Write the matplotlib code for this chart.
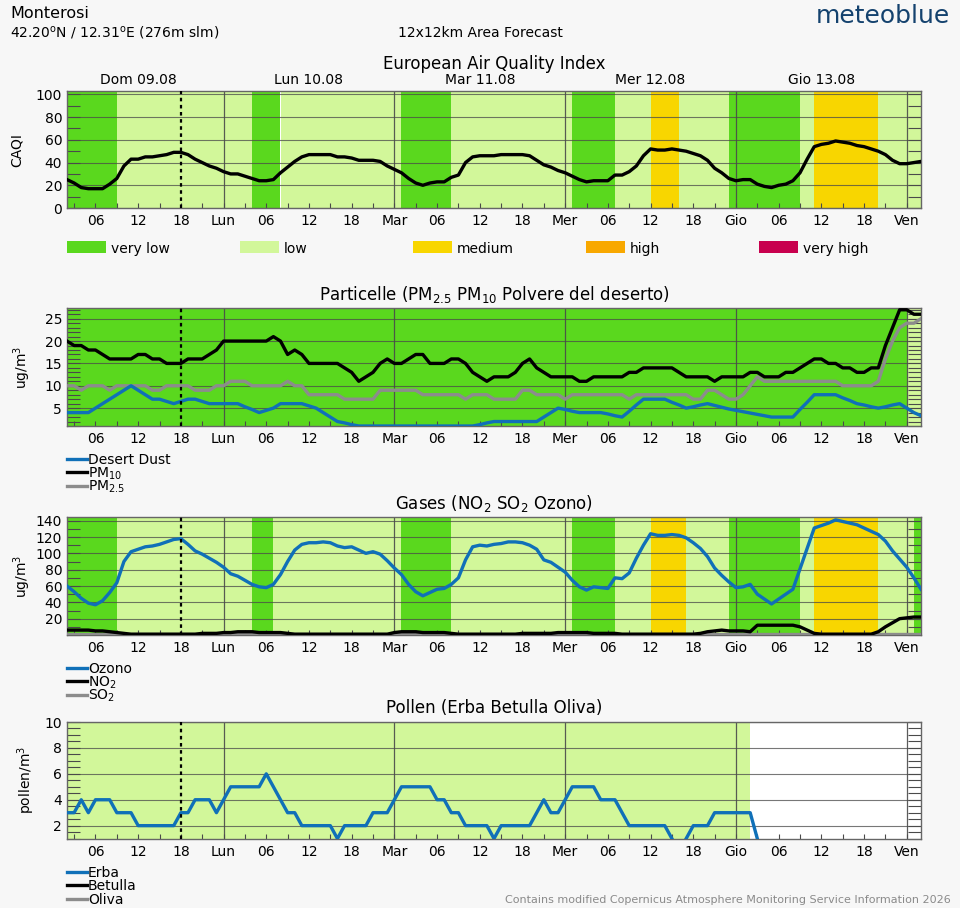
import matplotlib
matplotlib.use('Agg')
import matplotlib.pyplot as plt
from matplotlib.ticker import MultipleLocator, FixedLocator
from matplotlib.patches import Rectangle
from matplotlib.lines import Line2D

# ---------------- data ----------------
hours = list(range(2, 123))  # hours since Dom 09.08 00:00

caqi = [25, 22, 18, 17, 17, 17, 21, 26, 37, 43,
        43, 45, 45, 46, 47, 49, 49, 47, 43, 40,
        37, 35, 32, 30, 30, 28, 26, 24, 24, 25,
        31, 36, 41, 45, 47, 47, 47, 47, 45, 45,
        44, 42, 42, 42, 41, 37, 34, 31, 26, 22,
        20, 22, 23, 23, 27, 29, 40, 45, 46, 46,
        46, 47, 47, 47, 47, 46, 42, 38, 36, 33,
        31, 28, 25, 23, 24, 24, 24, 29, 29, 32,
        37, 46, 52, 51, 51, 52, 51, 50, 48, 46,
        42, 35, 31, 26, 24, 25, 25, 21, 19, 18,
        20, 21, 24, 31, 43, 54, 56, 57, 59, 58,
        57, 55, 54, 52, 50, 47, 42, 39, 39, 40,
        41]

pm10 = [20, 19, 19, 18, 18, 17, 16, 16, 16, 16,
        17, 17, 16, 16, 15, 15, 15, 16, 16, 16,
        17, 18, 20, 20, 20, 20, 20, 20, 20, 21,
        20, 17, 18, 17, 15, 15, 15, 15, 15, 14,
        13, 11, 12, 13, 15, 16, 15, 15, 16, 17,
        17, 15, 15, 15, 16, 16, 15, 13, 12, 11,
        12, 12, 12, 13, 15, 16, 14, 13, 12, 12,
        12, 12, 11, 11, 12, 12, 12, 12, 12, 13,
        13, 14, 14, 14, 14, 14, 13, 12, 12, 12,
        12, 11, 12, 12, 12, 12, 13, 13, 12, 12,
        12, 13, 13, 14, 15, 16, 16, 15, 15, 14,
        14, 13, 13, 14, 14, 19, 23, 27, 27, 26,
        26]

pm25 = [10, 10, 9, 10, 10, 10, 9, 10, 10, 10,
        10, 10, 9, 9, 10, 10, 10, 10, 9, 9,
        9, 10, 10, 11, 11, 11, 10, 10, 10, 10,
        10, 11, 10, 10, 8, 8, 8, 8, 8, 7,
        7, 7, 7, 7, 9, 9, 9, 9, 9, 9,
        8, 8, 8, 8, 8, 8, 7, 8, 8, 8,
        7, 7, 7, 7, 9, 9, 8, 8, 8, 8,
        7, 8, 8, 8, 8, 8, 8, 8, 8, 7,
        8, 8, 8, 8, 8, 8, 8, 8, 7, 7,
        9, 9, 8, 7, 7, 8, 10, 12, 11, 11,
        11, 11, 11, 11, 11, 11, 11, 11, 11, 10,
        10, 10, 10, 10, 11, 16, 20, 23, 24, 24,
        25]

dust = [4, 4, 4, 4, 5, 6, 7, 8, 9, 10,
        9, 8, 7, 7, 6.5, 6, 6.5, 7, 7, 6.5,
        6, 6, 6, 6, 6, 5.3, 4.7, 4, 4.5, 5,
        6, 6, 6, 6, 5.5, 5, 4, 3, 2, 1.7,
        1.3, 1, 1, 1, 1, 1, 1, 1, 1, 1,
        1, 1, 1, 1, 1, 1, 1, 1, 1.3, 1.7,
        2, 2, 2, 2, 2, 2, 2, 3, 4, 5,
        4.7, 4.3, 4, 4, 4, 4, 3.7, 3.3, 3, 4.3,
        5.7, 7, 7, 7, 7, 6.3, 5.7, 5, 5.3, 5.7,
        6, 5.6, 5.2, 4.8, 4.5, 4.2, 3.9, 3.6, 3.3, 3,
        3, 3, 3, 4.7, 6.3, 8, 8, 8, 8, 7.3,
        6.7, 6, 5.7, 5.3, 5, 5.3, 5.7, 6, 5, 4,
        3.3]

ozone = [60, 53, 45, 39, 37, 42, 52, 64, 90, 102,
         105, 108, 109, 111, 114, 117, 118, 111, 103, 99,
         94, 89, 83, 75, 72, 67, 62, 59, 58, 62,
         74, 90, 104, 111, 113, 113, 114, 113, 109, 107,
         108, 104, 100, 102, 99, 91, 82, 74, 62, 53,
         48, 52, 56, 57, 62, 70, 92, 108, 110, 109,
         111, 112, 114, 114, 113, 110, 105, 92, 89, 83,
         77, 67, 59, 55, 59, 58, 57, 70, 69, 76,
         94, 110, 124, 122, 122, 123, 122, 119, 113, 106,
         96, 82, 73, 65, 58, 59, 62, 50, 44, 38,
         44, 50, 56, 81, 106, 131, 134, 137, 141, 139,
         137, 135, 131, 127, 123, 115, 103, 93, 83, 70,
         56]

no2 = [6, 6, 6, 6, 5, 5, 4, 3, 2, 1,
       1, 1, 1, 1, 1, 1, 1, 1, 1, 2,
       2, 2, 3, 3, 4, 4, 4, 3, 3, 3,
       3, 2, 1, 1, 1, 1, 1, 1, 1, 1,
       1, 1, 1, 1, 1, 1, 3, 4, 4, 4,
       3, 3, 3, 3, 2, 1, 1, 1, 1, 1,
       1, 1, 1, 1, 2, 2, 2, 2, 2, 3,
       3, 3, 3, 3, 2, 2, 2, 2, 1, 1,
       1, 1, 1, 1, 1, 1, 1, 1, 1, 2,
       4, 5, 6, 5, 5, 5, 4, 12, 12, 12,
       12, 12, 12, 10, 6, 2, 1, 1, 1, 1,
       1, 1, 1, 1, 4, 10, 15, 20, 21, 22,
       22]

so2 = [1] * 121

pollen_hours = list(range(2, 100))
erba = [3, 3, 4, 3, 4, 4, 4, 3, 3, 3,
        2, 2, 2, 2, 2, 2, 3, 3, 4, 4,
        4, 3, 4, 5, 5, 5, 5, 5, 6, 5,
        4, 3, 3, 2, 2, 2, 2, 2, 1, 2,
        2, 2, 2, 3, 3, 3, 4, 5, 5, 5,
        5, 5, 4, 4, 3, 3, 2, 2, 2, 2,
        1, 2, 2, 2, 2, 2, 3, 4, 3, 3,
        4, 5, 5, 5, 5, 4, 4, 4, 3, 2,
        2, 2, 2, 2, 2, 1, 0, 1, 2, 2,
        2, 3, 3, 3, 3, 3, 3, 1]
betulla = [0] * 98
oliva = [0] * 98

# background category bands (start hour, end hour, category)
caqi_bands = [(2, 9, 'very low'), (9, 28, 'low'), (28, 32, 'very low'), (32, 49, 'low'),
              (49, 56, 'very low'), (56, 73, 'low'), (73, 79, 'very low'), (79, 84, 'low'),
              (84, 88, 'medium'), (88, 95, 'low'), (95, 105, 'very low'), (105, 107, 'low'),
              (107, 116, 'medium'), (116, 122, 'low')]
pm_bands = [(2, 120, 'very low'), (120, 122, 'low')]
gas_bands = [(2, 9, 'very low'), (9, 28, 'low'), (28, 31, 'very low'), (31, 49, 'low'),
             (49, 56, 'very low'), (56, 73, 'low'), (73, 79, 'very low'), (79, 84, 'low'),
             (84, 89, 'medium'), (89, 95, 'low'), (95, 105, 'very low'), (105, 107, 'low'),
             (107, 116, 'medium'), (116, 121, 'low'), (121, 122, 'very low')]
pollen_bands = [(2, 98, 'low')]

categories = ['very low', 'low', 'medium', 'high', 'very high']
cat_colors = {'very low': '#5ad81e', 'low': '#d2f79a', 'medium': '#f8d600',
              'high': '#f8a800', 'very high': '#c8004e'}

day_labels = ['Dom 09.08', 'Lun 10.08', 'Mar 11.08', 'Mer 12.08', 'Gio 13.08']
day_label_hours = [12, 36, 60, 84, 108]
xtick_hours = list(range(6, 121, 6))
xtick_labels = ['06', '12', '18', 'Lun', '06', '12', '18', 'Mar', '06', '12', '18', 'Mer',
                '06', '12', '18', 'Gio', '06', '12', '18', 'Ven']
day_bounds = [24, 48, 72, 96, 120]
now_hour = 18

# ---------------- figure ----------------
W, H = 960, 908
fig = plt.figure(figsize=(W / 100, H / 100), dpi=100, facecolor='#f7f7f7')
plt.rcParams['font.family'] = ['DejaVu Sans']

def fx(x):
    return x / W

def fy(y):
    return 1 - y / H

def add_px_axes(x0, y0, x1, y1):
    return fig.add_axes([fx(x0), fy(y1), (x1 - x0) / W, (y1 - y0) / H])

GRID = '#4a4a4a'
BLUE = '#1070b8'
GRAY = '#8c8c8c'

def style_axes(ax, ylim, major, minor, bands):
    ax.set_facecolor('white')
    ax.set_xlim(2, 122)
    ax.set_ylim(*ylim)
    for s, e, c in bands:
        ax.axvspan(s, e, color=cat_colors[c], lw=0, zorder=0)
    ax.yaxis.set_major_locator(FixedLocator(major))
    ax.yaxis.set_minor_locator(MultipleLocator(minor))
    ax.xaxis.set_major_locator(FixedLocator(xtick_hours))
    ax.xaxis.set_minor_locator(MultipleLocator(3))
    ax.set_xticklabels(xtick_labels)
    ax.grid(True, axis='y', which='major', color=GRID, lw=0.8, alpha=0.75, zorder=1)
    ax.set_axisbelow(True)
    for d in day_bounds:
        ax.axvline(d, color=GRID, lw=0.9, alpha=0.9, zorder=1.5)
    ax.axvline(now_hour, color='black', lw=1.6, ls=(0, (1.6, 1.6)), zorder=6)
    ax.tick_params(axis='x', which='both', direction='in', length=3.6, width=0.8,
                   color=GRID, bottom=True, top=False, labelsize=10, pad=4.5)
    ax.tick_params(axis='y', which='both', direction='in', length=9.4, width=0.8,
                   color=GRID, left=True, right=True, labelsize=10, pad=3.5)
    for sp in ax.spines.values():
        sp.set_color('#666666')
        sp.set_linewidth(1.0)

# header
fig.text(fx(10), fy(18.3), 'Monterosi', fontsize=11.5, va='baseline', ha='left')
fig.text(fx(10), fy(36.7), r'42.20$^{\mathrm{o}}$N / 12.31$^{\mathrm{o}}$E (276m slm)',
         fontsize=10, va='baseline', ha='left')
fig.text(fx(480.5), fy(36.7), '12x12km Area Forecast', fontsize=10, va='baseline', ha='center')
fig.text(fx(950), fy(23), 'meteoblue', fontsize=18, color='#14426e', va='baseline', ha='right')

# ---- CAQI panel ----
ax1 = add_px_axes(67, 91, 921, 208)
style_axes(ax1, (0, 103), [0, 20, 40, 60, 80, 100], 10, caqi_bands)
ax1.plot(hours, caqi, color='black', lw=2.4, zorder=5, solid_joinstyle='round')
fig.text(fx(494), fy(69), 'European Air Quality Index', fontsize=12, ha='center', va='baseline')
for h, lab in zip(day_label_hours, day_labels):
    ax1.annotate(lab, xy=(h, 1), xycoords=ax1.get_xaxis_transform(), xytext=(0, 91 - 84.3),
                 textcoords='offset pixels', fontsize=10, ha='center', va='baseline',
                 annotation_clip=False)
fig.text(fx(17), fy(150), 'CAQI', fontsize=10, rotation=90, ha='center', va='center')

# CAQI legend
leg_x = [67, 240, 413, 586, 759]
for x0, cat in zip(leg_x, categories):
    fig.patches.append(Rectangle((fx(x0), fy(253.3)), 39 / W, 12.6 / H, transform=fig.transFigure,
                                 facecolor=cat_colors[cat], edgecolor='none'))
    fig.text(fx(x0 + 44), fy(252.7), cat, fontsize=10, ha='left', va='baseline')

def line_legend(entries, baselines):
    for (label, color), yb in zip(entries, baselines):
        fig.lines.append(Line2D([fx(67), fx(87)], [fy(yb - 5), fy(yb - 5)], transform=fig.transFigure,
                                color=color, lw=2.4))
        fig.text(fx(88), fy(yb), label, fontsize=10, ha='left', va='baseline')

# ---- Particle panel ----
ax2 = add_px_axes(67, 308, 921, 426)
style_axes(ax2, (1, 27.4), [5, 10, 15, 20, 25], 1, pm_bands)
ax2.plot(hours, pm25, color=GRAY, lw=2.4, zorder=3, solid_joinstyle='round')
ax2.plot(hours, pm10, color='black', lw=2.4, zorder=4, solid_joinstyle='round')
ax2.plot(hours, dust, color=BLUE, lw=2.4, zorder=5, solid_joinstyle='round')
fig.text(fx(494), fy(300), r'Particelle (PM$_{2.5}$ PM$_{10}$ Polvere del deserto)', fontsize=12,
         ha='center', va='baseline')
fig.text(fx(22), fy(367), r'ug/m$^3$', fontsize=10, rotation=90, ha='center', va='center')
line_legend([('Desert Dust', BLUE), (r'PM$_{10}$', 'black'), (r'PM$_{2.5}$', GRAY)],
            [464, 477.3, 490.7])

# ---- Gases panel ----
ax3 = add_px_axes(67, 517, 921, 635)
style_axes(ax3, (0, 144.5), [20, 40, 60, 80, 100, 120, 140], 10, gas_bands)
ax3.plot(hours, so2, color=GRAY, lw=2.4, zorder=3)
ax3.plot(hours, no2, color='black', lw=2.4, zorder=4, solid_joinstyle='round')
ax3.plot(hours, ozone, color=BLUE, lw=2.4, zorder=5, solid_joinstyle='round')
fig.text(fx(494), fy(509), r'Gases (NO$_2$ SO$_2$ Ozono)', fontsize=12, ha='center', va='baseline')
fig.text(fx(22), fy(576), r'ug/m$^3$', fontsize=10, rotation=90, ha='center', va='center')
line_legend([('Ozono', BLUE), (r'NO$_2$', 'black'), (r'SO$_2$', GRAY)],
            [672.7, 686.4, 700])

# ---- Pollen panel ----
ax4 = add_px_axes(67, 722, 921, 839)
style_axes(ax4, (0.97, 10), [2, 4, 6, 8, 10], 0.5, pollen_bands)
ax4.plot(pollen_hours, oliva, color=GRAY, lw=2.4, zorder=3)
ax4.plot(pollen_hours, betulla, color='black', lw=2.4, zorder=4)
ax4.plot(pollen_hours, erba, color=BLUE, lw=2.4, zorder=5, solid_joinstyle='round')
fig.text(fx(494), fy(712.7), 'Pollen (Erba Betulla Oliva)', fontsize=12, ha='center', va='baseline')
fig.text(fx(26), fy(780), r'pollen/m$^3$', fontsize=10, rotation=90, ha='center', va='center')
line_legend([('Erba', BLUE), ('Betulla', 'black'), ('Oliva', GRAY)],
            [876.7, 890.3, 904])

fig.text(fx(951), fy(903), 'Contains modified Copernicus Atmosphere Monitoring Service Information 2026',
         fontsize=8, color='#8a8a8a', ha='right', va='baseline')

fig.savefig('out.png', dpi=100, facecolor=fig.get_facecolor())
